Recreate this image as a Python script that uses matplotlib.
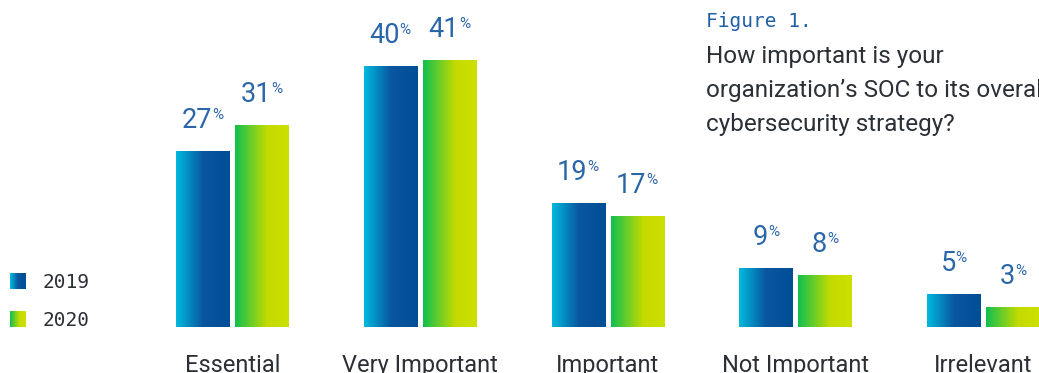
import numpy as np
import matplotlib.pyplot as plt
from matplotlib.colors import LinearSegmentedColormap

# survey answers, share of respondents (%)
categories = ['Essential', 'Very Important', 'Important', 'Not Important', 'Irrelevant']
years = ['2019', '2020']
share_2019 = [27, 40, 19, 9, 5]
share_2020 = [31, 41, 17, 8, 3]

W, H = 1039, 373
BLUE_TXT = '#2b66a9'
DARK_TXT = '#2b3036'

grad_2019 = LinearSegmentedColormap.from_list(
    'g2019', [(0, '#00bbdd'), (0.5, '#0a56a0'), (1, '#004e96')])
grad_2020 = LinearSegmentedColormap.from_list(
    'g2020', [(0, '#10bf50'), (0.6, '#c4db00'), (1, '#cde100')])
ramp = np.linspace(0, 1, 256).reshape(1, -1)

fig = plt.figure(figsize=(W / 100, H / 100), dpi=100)
ax = fig.add_axes([0, 0, 1, 1])
ax.axis('off')

# one category per 187.75 px, 1 % = 6.52 px, baseline 46 px above bottom
step, px_pct, base = 187.75, 6.52, 46
first = 232.5
ax.set_xlim(-first / step, (W - first) / step)
ax.set_ylim(-base / px_pct, (H - base) / px_pct)

x = np.arange(len(categories))
width = 54 / step
shift = 29.5 / step


def gradient_bars(xs, values, cmap):
    bars = ax.bar(xs, values, width, facecolor='none', edgecolor='none')
    for rect in bars:
        x0, h = rect.get_x(), rect.get_height()
        im = ax.imshow(ramp, cmap=cmap, aspect='auto', zorder=2,
                       extent=[x0, x0 + rect.get_width(), 0, h])
        im.set_clip_path(rect)
    return bars


def value_labels(xs, values):
    for xi, v in zip(xs, values):
        n = len(str(v))
        dx = (n * 14.5 - 11) / 2
        ax.annotate(str(v), (xi, v), xytext=(dx, 23), textcoords='offset pixels',
                    ha='right', va='baseline', fontsize=19.5, color=BLUE_TXT,
                    family='Roboto')
        ax.annotate('%', (xi, v), xytext=(dx, 32), textcoords='offset pixels',
                    ha='left', va='baseline', fontsize=11, color=BLUE_TXT,
                    family='Roboto')


gradient_bars(x - shift, share_2019, grad_2019)
gradient_bars(x + shift, share_2020, grad_2020)
value_labels(x - shift, share_2019)
value_labels(x + shift, share_2020)

for xi, name in zip(x, categories):
    ax.text(xi, -base / px_pct + 1 / px_pct, name, ha='center', va='baseline',
            fontsize=17, color=DARK_TXT, family='Roboto')

# title block, top right
fig.text(706 / W, 1 - 27 / H, 'Figure 1.', ha='left', va='baseline',
         fontsize=14, color='#1f5fa6', family='DejaVu Sans Mono')
question = ['How important is your',
            'organization\u2019s SOC to its overall',
            'cybersecurity strategy?']
for i, line in enumerate(question):
    fig.text(706 / W, 1 - (63 + 34 * i) / H, line, ha='left', va='baseline',
             fontsize=17.5, color=DARK_TXT, family='Roboto')

# legend
for year, cmap, top in zip(years, [grad_2019, grad_2020], [273, 311]):
    lax = fig.add_axes([10 / W, 1 - (top + 16) / H, 16 / W, 16 / H])
    lax.imshow(ramp, cmap=cmap, aspect='auto')
    lax.axis('off')
    fig.text(42 / W, 1 - (top + 9) / H, year, ha='left', va='center',
             fontsize=14, color=DARK_TXT, family='DejaVu Sans Mono')

fig.savefig('out.png', dpi=100)
